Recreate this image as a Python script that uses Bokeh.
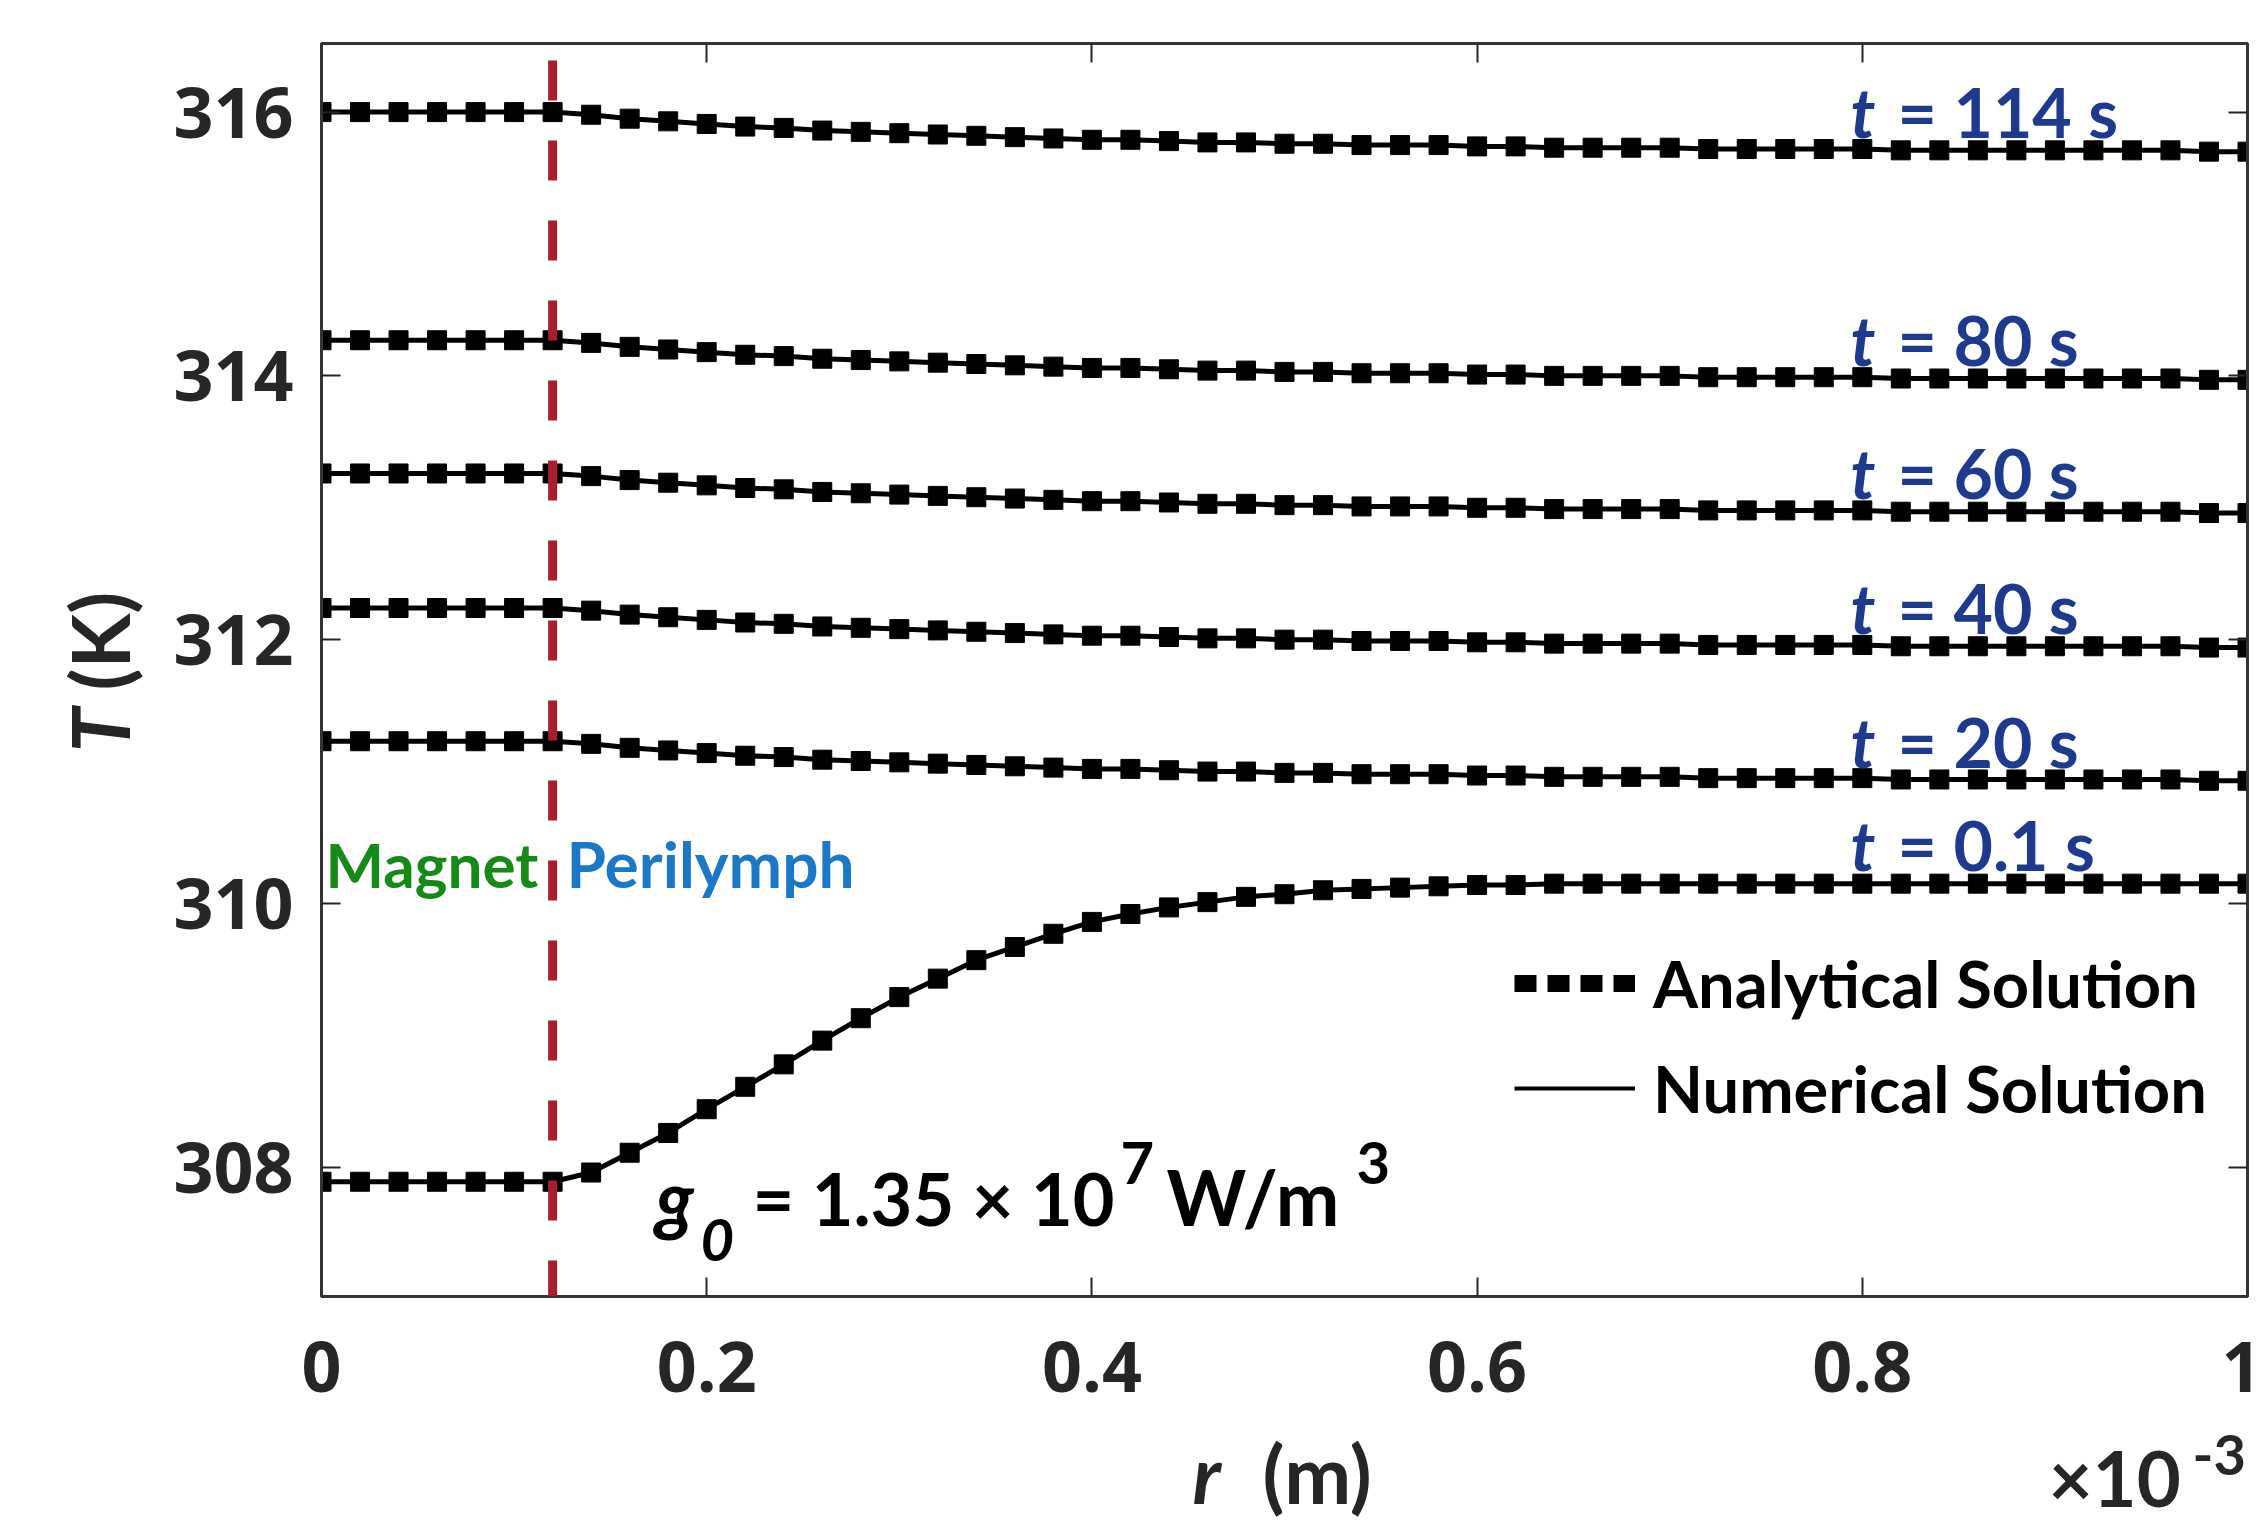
import math
from bokeh.plotting import figure
from bokeh.layouts import row, column
from bokeh.models import (Range1d, FixedTicker, LinearAxis, Label, Legend, LegendItem,
                          CustomJSTickFormatter, Span)
from bokeh.embed import file_html
from bokeh.resources import INLINE

# ---------------- data (r in units of 1e-3 m, T in K) ----------------
r_values = [0.00, 0.02, 0.04, 0.06, 0.08, 0.10, 0.12, 0.14, 0.16, 0.18,
            0.20, 0.22, 0.24, 0.26, 0.28, 0.30, 0.32, 0.34, 0.36, 0.38,
            0.40, 0.42, 0.44, 0.46, 0.48, 0.50, 0.52, 0.54, 0.56, 0.58,
            0.60, 0.62, 0.64, 0.66, 0.68, 0.70, 0.72, 0.74, 0.76, 0.78,
            0.80, 0.82, 0.84, 0.86, 0.88, 0.90, 0.92, 0.94, 0.96, 0.98, 1.00]

T_114s = [316.00, 316.00, 316.00, 316.00, 316.00, 316.00, 316.00, 315.98, 315.95, 315.93,
          315.91, 315.89, 315.88, 315.86, 315.85, 315.84, 315.83, 315.82, 315.81, 315.80,
          315.79, 315.79, 315.78, 315.77, 315.77, 315.76, 315.76, 315.75, 315.75, 315.75,
          315.74, 315.74, 315.73, 315.73, 315.73, 315.73, 315.72, 315.72, 315.72, 315.72,
          315.72, 315.71, 315.71, 315.71, 315.71, 315.71, 315.71, 315.71, 315.71, 315.70, 315.70]

T_80s = [314.27, 314.27, 314.27, 314.27, 314.27, 314.27, 314.27, 314.25, 314.22, 314.20,
         314.18, 314.16, 314.15, 314.13, 314.12, 314.11, 314.10, 314.09, 314.08, 314.07,
         314.06, 314.06, 314.05, 314.04, 314.04, 314.03, 314.03, 314.02, 314.02, 314.02,
         314.01, 314.01, 314.00, 314.00, 314.00, 314.00, 313.99, 313.99, 313.99, 313.99,
         313.99, 313.98, 313.98, 313.98, 313.98, 313.98, 313.98, 313.98, 313.98, 313.97, 313.97]

T_60s = [313.26, 313.26, 313.26, 313.26, 313.26, 313.26, 313.26, 313.24, 313.21, 313.19,
         313.17, 313.15, 313.14, 313.12, 313.11, 313.10, 313.09, 313.08, 313.07, 313.06,
         313.05, 313.05, 313.04, 313.03, 313.03, 313.02, 313.02, 313.01, 313.01, 313.01,
         313.00, 313.00, 312.99, 312.99, 312.99, 312.99, 312.98, 312.98, 312.98, 312.98,
         312.98, 312.97, 312.97, 312.97, 312.97, 312.97, 312.97, 312.97, 312.97, 312.96, 312.96]

T_40s = [312.24, 312.24, 312.24, 312.24, 312.24, 312.24, 312.24, 312.22, 312.19, 312.17,
         312.15, 312.13, 312.12, 312.10, 312.09, 312.08, 312.07, 312.06, 312.05, 312.04,
         312.03, 312.03, 312.02, 312.01, 312.01, 312.00, 312.00, 311.99, 311.99, 311.99,
         311.98, 311.98, 311.97, 311.97, 311.97, 311.97, 311.96, 311.96, 311.96, 311.96,
         311.96, 311.95, 311.95, 311.95, 311.95, 311.95, 311.95, 311.95, 311.95, 311.94, 311.94]

T_20s = [311.23, 311.23, 311.23, 311.23, 311.23, 311.23, 311.23, 311.21, 311.18, 311.16,
         311.14, 311.12, 311.11, 311.09, 311.08, 311.07, 311.06, 311.05, 311.04, 311.03,
         311.02, 311.02, 311.01, 311.00, 311.00, 310.99, 310.99, 310.98, 310.98, 310.98,
         310.97, 310.97, 310.96, 310.96, 310.96, 310.96, 310.95, 310.95, 310.95, 310.95,
         310.95, 310.94, 310.94, 310.94, 310.94, 310.94, 310.94, 310.94, 310.94, 310.93, 310.93]

T_01s = [307.89, 307.89, 307.89, 307.89, 307.89, 307.89, 307.89, 307.96, 308.11, 308.26,
         308.44, 308.61, 308.78, 308.96, 309.13, 309.29, 309.43, 309.57, 309.67, 309.77,
         309.86, 309.92, 309.97, 310.01, 310.05, 310.07, 310.10, 310.11, 310.12, 310.13,
         310.14, 310.14, 310.15, 310.15, 310.15, 310.15, 310.15, 310.15, 310.15, 310.15,
         310.15, 310.15, 310.15, 310.15, 310.15, 310.15, 310.15, 310.15, 310.15, 310.15, 310.15]

series = [T_114s, T_80s, T_60s, T_40s, T_20s, T_01s]
time_labels = ["= 114 s", "= 80 s", "= 60 s", "= 40 s", "= 20 s", "= 0.1 s"]
x_ticks = [0, 0.2, 0.4, 0.6, 0.8, 1.0]
y_ticks = [308, 310, 312, 314, 316]
boundary_r = 0.12

for s in series:
    assert len(s) == len(r_values)

# ---------------- layout constants (page pixels) ----------------
FONT = "Lato"
TICK_FONT = "Open Sans"
AX = "#262626"
NAVY = "#1E3A8F"
PAGE_W, PAGE_H = 2261, 1522
LEFT_W = 150                 # strip holding the y-axis title
BOTTOM_H = 102               # strip holding the x-axis title
FRAME_L, FRAME_T, FRAME_R, FRAME_B = 321, 43, 2247, 1296
X0, X1, Y0, Y1 = 0.0, 1.0, 307.02, 316.52
BASE_SHIFT = 0.35            # baseline correction, in em

MAIN_W = PAGE_W - LEFT_W
MAIN_H = PAGE_H - BOTTOM_H
BORDER_L = FRAME_L - LEFT_W
BORDER_R = MAIN_W - (FRAME_R - LEFT_W)

p = figure(width=MAIN_W, height=MAIN_H, output_backend="svg", toolbar_location=None, tools="",
           x_range=Range1d(X0, X1), y_range=Range1d(Y0, Y1),
           min_border_left=BORDER_L, min_border_right=BORDER_R,
           min_border_top=FRAME_T, min_border_bottom=MAIN_H - FRAME_B)
p.background_fill_color = "white"
p.border_fill_color = "white"
p.outline_line_color = "#333333"
p.outline_line_width = 3
p.grid.visible = False

p.xaxis.ticker = FixedTicker(ticks=x_ticks, minor_ticks=[])
p.yaxis.ticker = FixedTicker(ticks=y_ticks, minor_ticks=[])
p.xaxis.formatter = CustomJSTickFormatter(code="return String(Math.round(tick*10)/10);")
for ax in (p.xaxis[0], p.yaxis[0]):
    ax.major_tick_in = 19
    ax.major_tick_out = 0
    ax.minor_tick_in = 0
    ax.minor_tick_out = 0
    ax.major_tick_line_color = AX
    ax.major_tick_line_width = 2
    ax.axis_line_color = "#333333"
    ax.axis_line_width = 3
    ax.major_label_text_font = TICK_FONT
    ax.major_label_text_font_style = "bold"
    ax.major_label_text_font_size = "70px"
    ax.major_label_text_color = AX
p.xaxis.major_label_standoff = 44
p.yaxis.major_label_standoff = 28

blank = CustomJSTickFormatter(code="return '';")
top_axis = LinearAxis(ticker=FixedTicker(ticks=x_ticks, minor_ticks=[]), formatter=blank)
right_axis = LinearAxis(ticker=FixedTicker(ticks=y_ticks, minor_ticks=[]), formatter=blank)
for ax in (top_axis, right_axis):
    ax.major_tick_in = 19
    ax.major_tick_out = 0
    ax.minor_tick_in = 0
    ax.minor_tick_out = 0
    ax.major_tick_line_color = AX
    ax.major_tick_line_width = 2
    ax.axis_line_color = "#333333"
    ax.axis_line_width = 3
    ax.major_label_standoff = 0
p.add_layout(top_axis, "above")
p.add_layout(right_axis, "right")

# ---------------- curves ----------------
for T in series:
    p.line(r_values, T, line_color="black", line_width=5)
    p.scatter(r_values, T, marker="square", size=19, fill_color="black", line_color="black")

# boundary between magnet and perilymph
p.add_layout(Span(location=boundary_r, dimension="height", line_color="#A71D31",
                  line_width=9, line_dash="40 40", line_dash_offset=63))

# ---------------- legend (single-point renderers: nothing drawn in the frame) ----------------
sq_dummy = p.line(x=r_values[:1], y=T_01s[:1], line_color="black", line_width=17,
                  line_dash="22 11", line_cap="butt")
ln_dummy = p.line(x=r_values[:1], y=T_01s[:1], line_color="black", line_width=4)
legend = Legend(items=[LegendItem(label="Analytical Solution", renderers=[sq_dummy]),
                       LegendItem(label="Numerical Solution", renderers=[ln_dummy])],
                location=(1193, 163), orientation="vertical",
                glyph_width=121, glyph_height=90, label_height=90, spacing=15,
                label_standoff=18, padding=0, margin=0,
                border_line_color=None, background_fill_alpha=0,
                label_text_font=FONT, label_text_font_style="bold",
                label_text_font_size="65px", label_text_color="black")
p.add_layout(legend)

# ---------------- helper for texts placed by page pixel (baseline) ----------------
def to_main(xp, yp):
    return (X0 + (xp - FRAME_L) / (FRAME_R - FRAME_L) * (X1 - X0),
            Y1 - (yp - FRAME_T) / (FRAME_B - FRAME_T) * (Y1 - Y0))

def lab(fig, xp, yp, text, size, style="bold", color="black", angle=0.0, main=True, font=FONT):
    if angle == 0.0:
        yp = yp - BASE_SHIFT * size
    else:
        xp = xp - BASE_SHIFT * size
    if main:
        x, y = to_main(xp, yp)
    else:
        x, y = xp, yp
    fig.add_layout(Label(x=x, y=y, text=text, text_font=font, text_font_size=f"{size}px",
                         text_font_style=style, text_color=color, angle=angle,
                         text_align="left", text_baseline="alphabetic"))

# time labels
label_base = [135, 363, 496, 631, 765, 868]
for txt, yb in zip(time_labels, label_base):
    lab(p, 1850, yb, "t", 68, "bold italic", NAVY)
    lab(p, 1897, yb, txt, 68, "bold", NAVY)

lab(p, 325, 885, "Magnet", 62, "bold", "#168A16")
lab(p, 566, 885, "Perilymph", 64, "bold", "#1B78C8")

lab(p, 655, 1223, "g", 76, "bold italic")
lab(p, 700, 1260, "0", 58, "bold italic")
lab(p, 752, 1223, "= 1.35 \u00d7 10", 72, "bold")
lab(p, 1120, 1183, "7", 58, "bold")
lab(p, 1166, 1223, "W/m", 76, "bold")
lab(p, 1356, 1183, "3", 58, "bold")

# ---------------- strips for axis titles ----------------
left_fig = figure(width=LEFT_W, height=PAGE_H, output_backend="svg", toolbar_location=None,
                  tools="", x_axis_type=None, y_axis_type=None,
                  x_range=Range1d(0, LEFT_W), y_range=Range1d(PAGE_H, 0), min_border=0)
left_fig.outline_line_color = None
left_fig.grid.visible = False
lab(left_fig, 126, 752, "T", 80, "bold italic", AX, math.pi / 2, main=False)
lab(left_fig, 126, 690, "(K)", 80, "bold", AX, math.pi / 2, main=False)

# bottom strip: same side borders as the main plot so its frame spans page x FRAME_L..FRAME_R
bottom_fig = figure(width=MAIN_W, height=BOTTOM_H, output_backend="svg", toolbar_location=None,
                    tools="", x_axis_type=None, y_axis_type=None,
                    x_range=Range1d(FRAME_L, FRAME_R), y_range=Range1d(PAGE_H, MAIN_H),
                    min_border_left=BORDER_L, min_border_right=BORDER_R,
                    min_border_top=0, min_border_bottom=0)
bottom_fig.outline_line_color = None
bottom_fig.grid.visible = False
lab(bottom_fig, 1192, 1500, "r", 80, "bold italic", AX, main=False)
lab(bottom_fig, 1262, 1500, "(m)", 80, "bold", AX, main=False)
lab(bottom_fig, 2048, 1504, "\u00d710", 76, "bold", AX, main=False)
lab(bottom_fig, 2192, 1474, "-3", 56, "bold", AX, main=False)

layout = row(left_fig, column(p, bottom_fig))
open("out.html", "w").write(file_html(layout, INLINE))
